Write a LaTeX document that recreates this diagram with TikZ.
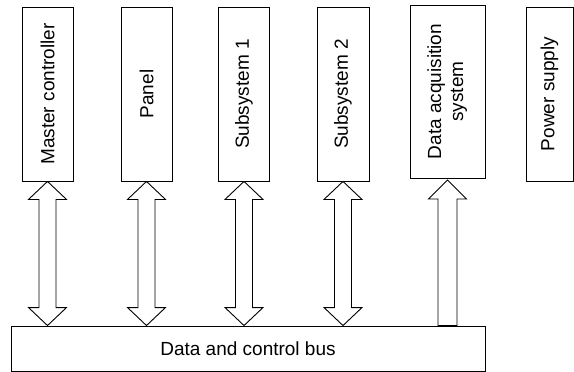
\documentclass[tikz,border=0pt]{standalone}
\usepackage{fontspec}
\setmainfont{Liberation Sans}
\usetikzlibrary{calc}
\tikzset{
  unit/.style={draw, line width=0.9pt, inner sep=0pt, font=\fontsize{19}{23}\selectfont},
  fat/.style={draw, line width=0.9pt, line join=miter, fill=white},
}
% Wide double-headed arrow from the bottom of a unit down to the bus
\newcommand\busdouble[1]{%
  \draw[fat] (#1.south) -- ++(19,18) -- ++(-10.5,0)
    -- ($(#1.south |- bus.north)+(8.5,-18)$) -- ($(#1.south |- bus.north)+(19,-18)$)
    -- (#1.south |- bus.north)
    -- ($(#1.south |- bus.north)+(-19,-18)$) -- ($(#1.south |- bus.north)+(-8.5,-18)$)
    -- ($(#1.south)+(-8.5,18)$) -- ($(#1.south)+(-19,18)$) -- cycle;}
\begin{document}
\begin{tikzpicture}[x=1pt, y=-1pt]
\useasboundingbox (0,0) rectangle (574,372);
\node[unit, minimum width=51pt, minimum height=174pt] (mc) at (47.5,94) {\rotatebox{90}{Master controller}};
\node[unit, minimum width=51pt, minimum height=174pt] (pn) at (146.5,94) {\rotatebox{90}{Panel}};
\node[unit, minimum width=51pt, minimum height=174pt] (s1) at (244,94) {\rotatebox{90}{Subsystem 1}};
\node[unit, minimum width=52pt, minimum height=174pt] (s2) at (343,94) {\rotatebox{90}{Subsystem 2}};
\node[unit, minimum width=75pt, minimum height=173pt] (daq) at (447.5,91.5)
  {\rotatebox{90}{\begin{tabular}{@{}c@{}}Data acquisition\\[-1pt]system\end{tabular}}};
\node[unit, minimum width=47pt, minimum height=174pt] (ps) at (549.5,94) {\rotatebox{90}{Power supply}};
\node[unit, minimum width=474pt, minimum height=45pt] (bus) at (248,348.5) {Data and control bus};
\busdouble{mc}
\busdouble{pn}
\busdouble{s1}
\busdouble{s2}
% one-way arrow from the bus up to the acquisition unit
\draw[fat] ($(daq.south)+(0,1.5)$) -- ++(19,19) -- ++(-9.5,0)
  -- ($(daq.south |- bus.north)+(9.5,0)$) -- ($(daq.south |- bus.north)+(-9.5,0)$)
  -- ($(daq.south)+(-9.5,20.5)$) -- ($(daq.south)+(-19,20.5)$) -- cycle;
\end{tikzpicture}
\end{document}
